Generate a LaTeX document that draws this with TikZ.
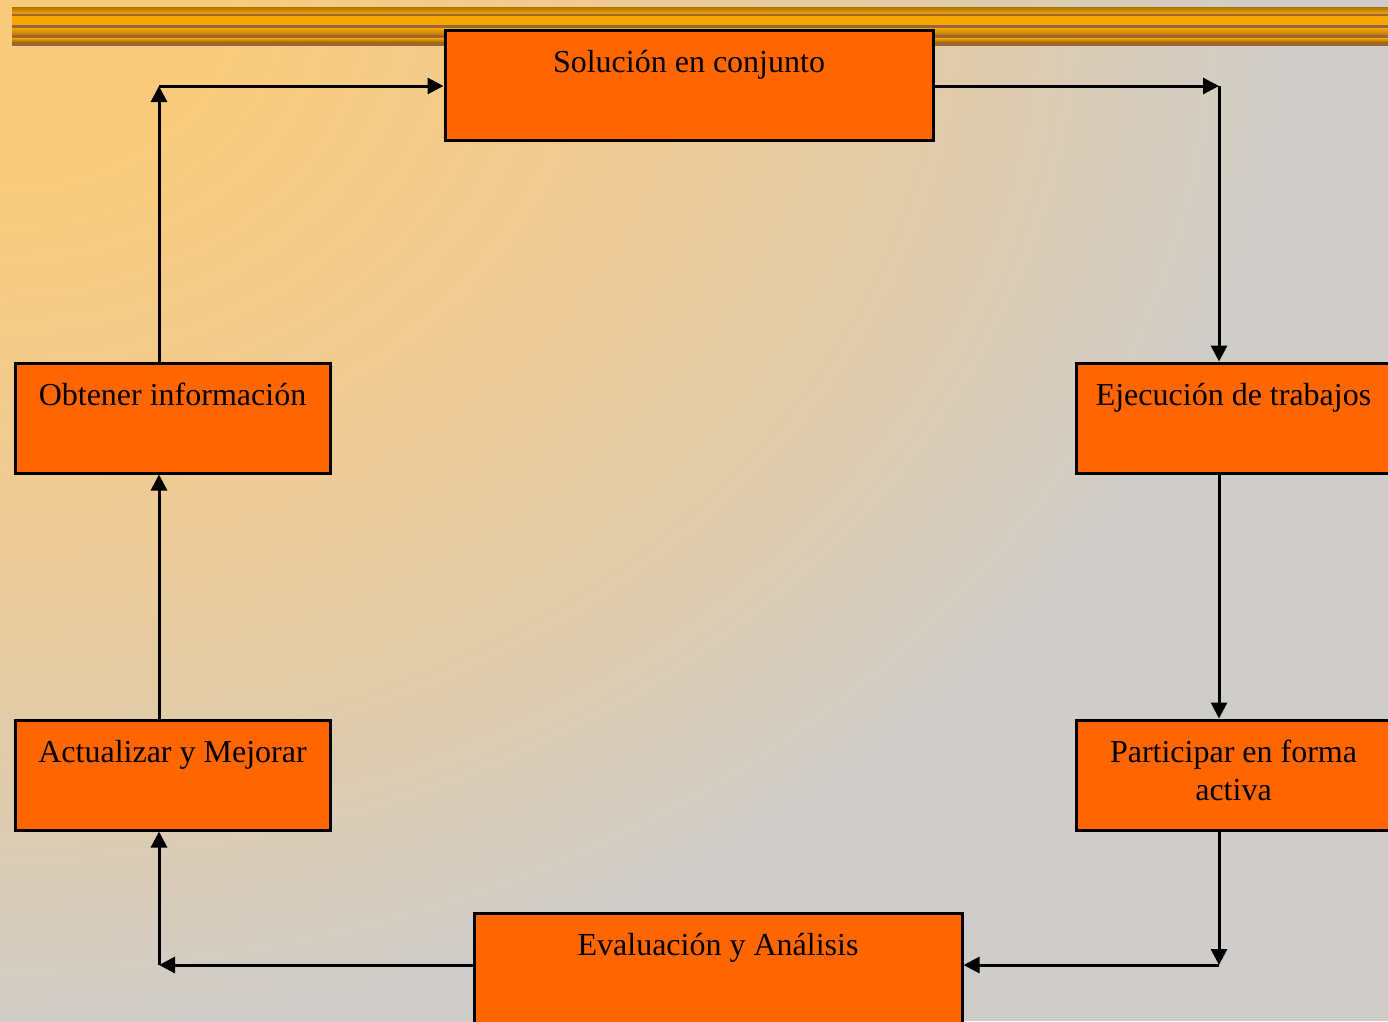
\documentclass[tikz,border=0pt]{standalone}
\usepackage{fontspec}
\setmainfont{Liberation Serif}
\usetikzlibrary{arrows.meta}
\definecolor{boxorange}{HTML}{FF6600}
\definecolor{bgA}{HTML}{F8CB7C}
\definecolor{bgB}{HTML}{EFCB94}
\definecolor{bgC}{HTML}{E0CBAA}
\definecolor{bgD}{HTML}{CFCDC9}
\definecolor{goldlight}{HTML}{F6A700}
\definecolor{golddark}{HTML}{8E5C00}
\definecolor{goldline}{HTML}{9B6535}
\newcommand{\thickness}{3pt}
\newcommand{\tipsize}{16pt}
\pgfdeclareradialshading{bgglow}{\pgfpointorigin}{color(0bp)=(bgA); color(4bp)=(bgA); color(11bp)=(bgB); color(17bp)=(bgC); color(23bp)=(bgD); color(50bp)=(bgD)}
\tikzset{
  stepbox/.style={draw, fill=boxorange, line width=\thickness, minimum width=488pt,
    minimum height=110pt, inner sep=0pt, text height=42pt, text depth=68pt,
    font=\fontsize{32}{38}\selectfont},
  sidebox/.style={stepbox, minimum width=315pt},
  flow/.style={line width=\thickness, -{Triangle[length=\tipsize, width=\tipsize]}},
}

\begin{document}
\begin{tikzpicture}[x=1pt, y=-1pt]
\useasboundingbox (0,0) rectangle (1388,1021);
\clip (0,0) rectangle (1388,1021);
%background
\fill[bgD] (0,0) rectangle (1388,1021);
\shade[shading=bgglow] (0,0) ellipse [x radius=1400, y radius=1120];
%gold bar
\shade[top color=golddark!70!goldlight, bottom color=goldlight] (12,7) rectangle (1388,14);
\fill[goldline] (12,14) rectangle (1388,16);
\shade[top color=goldlight, middle color=golddark, bottom color=goldlight] (12,16) rectangle (1388,25);
\fill[goldline] (12,25) rectangle (1388,28);
\shade[top color=goldlight, bottom color=golddark!60!goldlight] (12,28) rectangle (1388,35);
\fill[goldline] (12,35) rectangle (1388,38);
\shade[top color=goldlight, bottom color=golddark] (12,38) rectangle (1388,43);
\fill[goldline] (12,43) rectangle (1388,46);
%boxes
\node[stepbox] (1) at (689, 85) {Solución en conjunto};
\node[sidebox] (2) at (172.5, 418) {Obtener información};
\node[sidebox] (3) at (1233.5, 418) {Ejecución de trabajos};
\node[sidebox] (4) at (172.5, 775) {Actualizar y Mejorar};
\node[sidebox, align=center, text height=80pt, text depth=30pt] (5) at (1233.5, 775) {Participar en forma\\activa};
\node[stepbox] (6) at (718, 968) {Evaluación y Análisis};
%corners
\coordinate (c1) at (159, 86);
\coordinate (c2) at (1219, 86);
\coordinate (c3) at (1219, 965);
\coordinate (c4) at (159, 965);
%connectors
\draw[flow] (2.north -| c1) -- (c1);
\draw[flow] (c1) -- (1.west |- c1);
\draw[flow] (1.east |- c2) -- (c2);
\draw[flow] (c2) -- (3.north -| c2);
\draw[flow] (3.south -| c2) -- (5.north -| c2);
\draw[flow] (5.south -| c3) -- (c3);
\draw[flow] (c3) -- (6.east |- c3);
\draw[flow] (6.west |- c4) -- (c4);
\draw[flow] (c4) -- (4.south -| c4);
\draw[flow] (4.north -| c4) -- (2.south -| c4);
\end{tikzpicture}
\end{document}
